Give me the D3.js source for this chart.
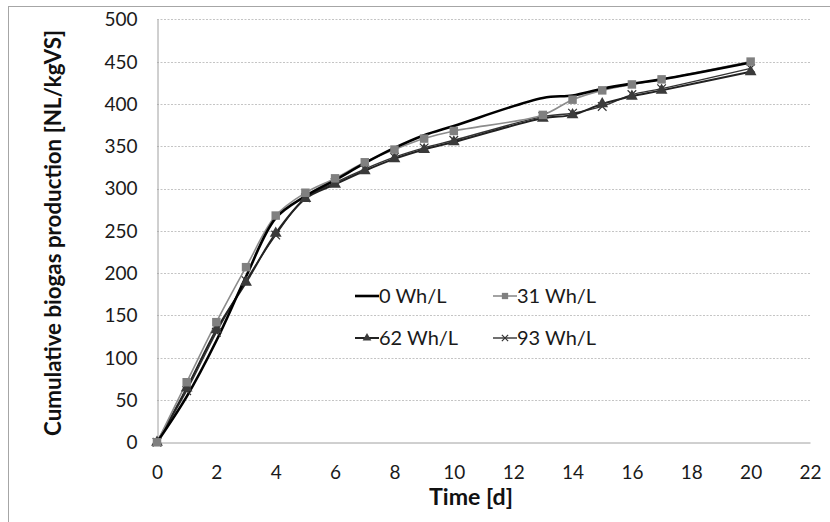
<!DOCTYPE html>
<html><head><meta charset="utf-8">
<script src="https://cdn.jsdelivr.net/npm/d3@7"></script>
<style>body{margin:0;background:#fff}svg{display:block;font-family:Lato, "Open Sans", sans-serif}</style>
</head><body>
<svg id="c" width="830" height="522"></svg>
<script>
const days = [0,1,2,3,4,5,6,7,8,9,10,13,14,15,16,17,20];
const s0  = [0,54,120,196,265,291,310,330,348,363,374,407,410,418,424,429,449];
const s31 = [0,71,142,207,268,295,312,331,346,359,368,387,405,416,423,429,450];
const s62 = [0,64,133,189,247,288,305,321,335,346,355,383,387,400,409,416,438];
const s93 = [0,61,130,191,245,289,307,323,337,348,357,385,389,397,411,418,442];
const seriesNames = ["0 Wh/L","31 Wh/L","62 Wh/L","93 Wh/L"];
const xTicks = [0,2,4,6,8,10,12,14,16,18,20,22];
const yTicks = [0,50,100,150,200,250,300,350,400,450,500];
const xTitle = "Time [d]";
const yTitle = "Cumulative biogas production [NL/kgVS]";

const svg = d3.select("#c");
const x = d3.scaleLinear().domain([0,22]).range([157,810]);
const y = d3.scaleLinear().domain([0,500]).range([442.3,19.3]);

// frame
svg.append("rect").attr("x",8.5).attr("y",6.5).attr("width",900).attr("height",600)
  .attr("fill","none").attr("stroke","#a6a6a6").attr("stroke-width",1);

// gridlines
svg.append("g").selectAll("line").data(yTicks.filter(d=>d>0)).join("line")
  .attr("x1",x(0)).attr("x2",x(22)).attr("y1",d=>Math.round(y(d))+0.5).attr("y2",d=>Math.round(y(d))+0.5)
  .attr("stroke","#c4c4c4").attr("stroke-dasharray","2,1.5").attr("stroke-width",1);

// axes (lines only)
const xAxis = d3.axisBottom(x).tickValues(xTicks).tickSize(0).tickPadding(0);
const yAxis = d3.axisLeft(y).tickValues(yTicks).tickSize(0).tickPadding(0);
const gx = svg.append("g").attr("transform",`translate(0,${Math.round(y(0))+0.5})`).call(xAxis);
gx.select(".domain").attr("stroke","#a0a0a0");
gx.selectAll("text").attr("font-family","Lato").attr("font-size",19).attr("fill","#1a1a1a").attr("dy",null).attr("y",36);
const gy = svg.append("g").attr("transform",`translate(${Math.round(x(0))+0.5},0)`).call(yAxis);
gy.select(".domain").attr("stroke","#a0a0a0");
gy.selectAll("text").attr("font-family","Lato").attr("font-size",19).attr("fill","#1a1a1a").attr("dy","0.34em").attr("x",-20);

function fit(t, w){ t.attr("font-size",20); const L=t.node().getComputedTextLength(); t.attr("font-size",20*w/L); }

const xt = svg.append("text").attr("x",471).attr("y",505).attr("text-anchor","middle")
  .attr("font-weight","bold").attr("fill","#111").text(xTitle);
fit(xt,84);
const yt = svg.append("text").attr("transform","translate(61,233) rotate(-90)").attr("text-anchor","middle")
  .attr("font-weight","bold").attr("fill","#111").text(yTitle);
fit(yt,406);

// series
const styles = [
  {data:s0, stroke:"#000", w:2.6, marker:null},
  {data:s31,stroke:"#8c8c8c", w:1.6, marker:"square", fill:"#808080"},
  {data:s62,stroke:"#222", w:2, marker:"triangle", fill:"#3a3a3a"},
  {data:s93,stroke:"#333", w:1.4, marker:"cross", fill:"#333"}
];
const line = d3.line().x((d,i)=>x(days[i])).y(d=>y(d)).curve(d3.curveCatmullRom.alpha(0.5));
const sym = {square:d3.symbolSquare, triangle:d3.symbolTriangle, cross:d3.symbolX};
const size = {square:72, triangle:60, cross:50};

function drawMarker(g, type, cx, cy, fill, small){
  if(!type) return;
  const s = size[type]*(small?0.55:1);
  const p = g.append("path").attr("d",d3.symbol().type(sym[type]).size(s)()).attr("transform",`translate(${cx},${cy})`);
  if(type==="cross") p.attr("fill","none").attr("stroke",fill).attr("stroke-width",1.2);
  else p.attr("fill",fill);
}

const order = [3,2,1,0];
order.forEach(k=>{
  const st = styles[k];
  svg.append("path").datum(st.data).attr("d",line).attr("fill","none")
    .attr("stroke",st.stroke).attr("stroke-width",st.w).attr("stroke-linejoin","round");
});
[3,2,1].forEach(k=>{
  const st = styles[k];
  const g = svg.append("g");
  st.data.forEach((v,i)=>drawMarker(g, st.marker, x(days[i]), y(v), st.fill, false));
});

// legend
const legPos = [[355,296],[493,296],[355,338],[493,338]];
styles.forEach((st,k)=>{
  const [lx,ly] = legPos[k];
  const g = svg.append("g");
  g.append("line").attr("x1",lx).attr("x2",lx+24).attr("y1",ly).attr("y2",ly)
    .attr("stroke",st.stroke).attr("stroke-width",st.w);
  drawMarker(g, st.marker, lx+12, ly, st.fill, true);
  g.append("text").attr("x",lx+24).attr("y",ly).attr("dy","0.35em").attr("font-family","Lato")
    .attr("font-size",20).attr("fill","#1a1a1a").text(seriesNames[k]);
});
</script>
</body></html>
